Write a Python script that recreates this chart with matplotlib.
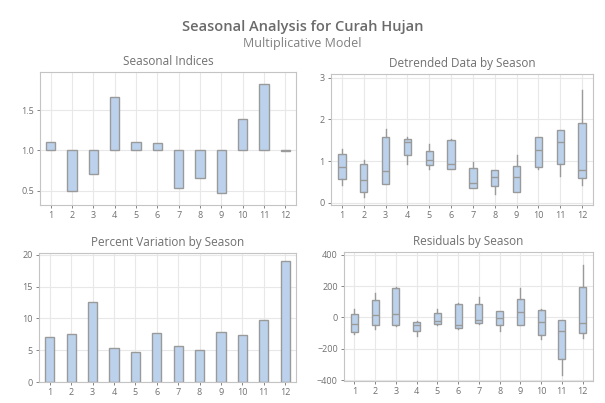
import matplotlib

matplotlib.use("Agg")
import matplotlib.pyplot as plt

plt.rcParams["font.family"] = ["Open Sans", "DejaVu Sans"]

seasons = list(range(1, 13))
season_labels = [str(s) for s in seasons]

# seasonal indices (bars drawn from 1.0)
seasonal_index = [1.11, 0.50, 0.70, 1.665, 1.11, 1.087, 0.537, 0.653, 0.467, 1.384, 1.83, 0.995]

# detrended data by season: low whisker, Q1, median, Q3, high whisker
detr_low = [0.42, 0.13, 0.45, 0.93, 0.82, 0.81, 0.36, 0.22, 0.25, 0.82, 0.64, 0.44]
detr_q1 = [0.57, 0.26, 0.46, 1.15, 0.90, 0.82, 0.36, 0.40, 0.25, 0.87, 0.94, 0.59]
detr_med = [0.85, 0.54, 0.76, 1.45, 1.03, 0.93, 0.47, 0.62, 0.61, 1.26, 1.45, 0.80]
detr_q3 = [1.18, 0.94, 1.59, 1.53, 1.24, 1.51, 0.83, 0.78, 0.88, 1.57, 1.75, 1.91]
detr_high = [1.29, 1.03, 1.78, 1.58, 1.41, 1.54, 0.97, 0.79, 1.14, 1.58, 1.75, 2.70]

# percent variation by season
pct_var = [7.05, 7.57, 12.64, 5.38, 4.70, 7.68, 5.64, 4.96, 7.83, 7.47, 9.82, 19.0]

# residuals by season
res_low = [-106, -74, -55, -121, -47, -72, -43, -85, -45, -136, -364, -130]
res_q1 = [-92, -49, -45, -89, -40, -68, -38, -45, -45, -113, -262, -96]
res_med = [-43, 13, 19, -51, -21, -47, -15, -6, 32, -30, -85, -34]
res_q3 = [23, 111, 187, -26, 30, 85, 85, 38, 119, 49, -15, 191]
res_high = [51, 155, 191, -23, 55, 92, 132, 40, 187, 51, -15, 336]

FILL = "#bcd2ec"
EDGE = "#9a9a9a"
TEXT = "#707070"
GRID = "#e8e8e8"
SPINE = "#c4c4c4"


def style_axes(ax, title, yticks, ylim):
    ax.set_title(title, fontsize=8.5, color=TEXT, pad=5)
    ax.set_xlim(0.5, 12.5)
    ax.set_ylim(*ylim)
    ax.set_xticks(seasons)
    ax.set_xticklabels(season_labels)
    ax.set_yticks(yticks)
    ax.grid(True, color=GRID, linewidth=0.8)
    ax.set_axisbelow(True)
    ax.tick_params(labelsize=6.5, colors=TEXT, length=2.5, width=0.6, pad=2)
    for spine in ax.spines.values():
        spine.set_color(SPINE)
        spine.set_linewidth(0.8)


def draw_boxes(ax, low, q1, med, q3, high):
    stats = [
        {"whislo": lo, "q1": a, "med": m, "q3": b, "whishi": hi}
        for lo, a, m, b, hi in zip(low, q1, med, q3, high)
    ]
    ax.bxp(
        stats,
        positions=seasons,
        widths=0.34,
        showfliers=False,
        showcaps=False,
        patch_artist=True,
        boxprops=dict(facecolor=FILL, edgecolor=EDGE, linewidth=1.0),
        medianprops=dict(color=EDGE, linewidth=1.0),
        whiskerprops=dict(color=EDGE, linewidth=1.0),
        manage_ticks=False,
    )


fig = plt.figure(figsize=(6.05, 4.03), dpi=100)
fig.text(0.5, 0.933, "Seasonal Analysis for Curah Hujan", ha="center", va="center",
         fontsize=10.5, fontweight="semibold", color="#6a6a6a")
fig.text(0.5, 0.891, "Multiplicative Model", ha="center", va="center", fontsize=9, color="#808080")

W, H = 605, 403


def add_ax(left, top, right, bottom):
    return fig.add_axes([left / W, 1 - bottom / H, (right - left) / W, (bottom - top) / H])


ax1 = add_ax(40, 72, 296, 205)
ax2 = add_ax(331, 74, 593, 205)
ax3 = add_ax(39, 253, 296, 382)
ax4 = add_ax(344, 252, 593, 381)

# seasonal indices
heights = [v - 1.0 for v in seasonal_index]
ax1.bar(seasons, heights, bottom=1.0, width=0.44, color=FILL, edgecolor=EDGE, linewidth=1.0)
style_axes(ax1, "Seasonal Indices", [0.5, 1.0, 1.5], (0.32, 1.975))

# detrended
draw_boxes(ax2, detr_low, detr_q1, detr_med, detr_q3, detr_high)
style_axes(ax2, "Detrended Data by Season", [0, 1, 2, 3], (-0.05, 3.09))

# percent variation
ax3.bar(seasons, pct_var, width=0.43, color=FILL, edgecolor=EDGE, linewidth=1.0)
style_axes(ax3, "Percent Variation by Season", [0, 5, 10, 15, 20], (0, 20.3))

# residuals
draw_boxes(ax4, res_low, res_q1, res_med, res_q3, res_high)
style_axes(ax4, "Residuals by Season", [-400, -200, 0, 200, 400], (-405, 417))

fig.savefig("out.png", dpi=100)
